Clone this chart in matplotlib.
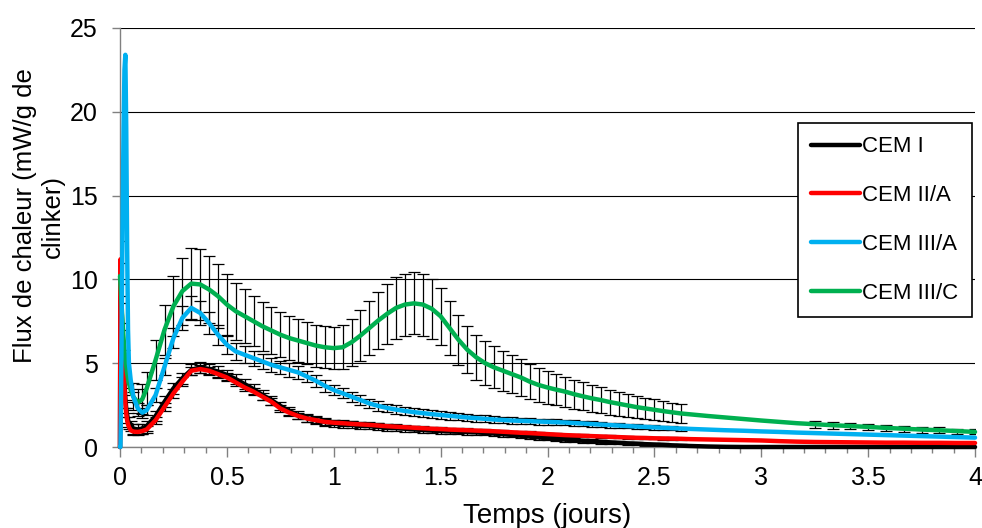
import numpy as np
import matplotlib
matplotlib.use("Agg")
import matplotlib.pyplot as plt
from matplotlib.ticker import MultipleLocator

plt.rcParams['font.family'] = ['Liberation Sans', 'DejaVu Sans']

# ---------------- data (time in hours) ----------------
hours_early = [0, 0.05, 0.1, 0.2, 0.3, 0.4, 0.5, 0.6, 0.7, 0.8, 0.9, 1.0, 1.2, 1.5, 2.0, 2.5]
hours_mid = list(range(3, 64))
hours_late = list(range(64, 97, 2))

labels = ["CEM I", "CEM II/A", "CEM III/A", "CEM III/C"]
colors = ["#000000", "#FF0000", "#00B0F0", "#00B050"]

cem1_early = [0, 11.0, 9.8, 8.0, 6.5, 5.0, 3.8, 2.9, 2.3, 1.9, 1.6, 1.45, 1.25, 1.1, 1.05, 1.1]
cem1_mid = [1.25, 1.85, 2.7, 3.5, 4.1, 4.6, 4.75, 4.65, 4.5, 4.3,
            4.05, 3.75, 3.45, 3.1, 2.8, 2.45, 2.15, 1.9, 1.72, 1.6,
            1.5, 1.42, 1.38, 1.33, 1.29, 1.25, 1.21, 1.17, 1.13, 1.09,
            1.05, 1.01, 0.98, 0.95, 0.93, 0.91, 0.89, 0.87, 0.84, 0.8,
            0.76, 0.72, 0.67, 0.62, 0.57, 0.52, 0.48, 0.44, 0.4, 0.37,
            0.34, 0.31, 0.28, 0.25, 0.22, 0.2, 0.17, 0.15, 0.13, 0.1,
            0.08]
cem1_late = [0.06, 0.03, 0.01, 0.0, 0.0, 0.0, 0.0, 0.0, 0.0, 0.0, 0.0, 0.0, 0.0, 0.0, 0.0, 0.0, 0.0]

cem2a_early = [0, 11.2, 9.5, 7.5, 6.0, 4.6, 3.5, 2.6, 2.0, 1.6, 1.35, 1.2, 1.0, 0.92, 0.9, 0.95]
cem2a_mid = [1.05, 1.6, 2.4, 3.2, 3.9, 4.55, 4.65, 4.55, 4.35, 4.15,
             3.85, 3.55, 3.3, 3.0, 2.7, 2.3, 2.05, 1.85, 1.7, 1.6,
             1.5, 1.45, 1.42, 1.38, 1.35, 1.32, 1.28, 1.24, 1.21, 1.18,
             1.15, 1.12, 1.09, 1.07, 1.04, 1.02, 1.0, 0.98, 0.96, 0.94,
             0.91, 0.88, 0.85, 0.83, 0.8, 0.77, 0.74, 0.71, 0.69, 0.67,
             0.65, 0.63, 0.61, 0.59, 0.57, 0.55, 0.54, 0.52, 0.51, 0.5,
             0.49]
cem2a_late = [0.47, 0.45, 0.43, 0.41, 0.39, 0.35, 0.32, 0.3, 0.29, 0.28, 0.27, 0.26, 0.26, 0.25, 0.25, 0.24, 0.24]

cem3a_early = [0, 0, 2.0, 8.0, 14.0, 19.0, 22.5, 23.4, 19.0, 12.0, 7.0, 5.0, 4.0, 3.0, 2.3, 2.05]
cem3a_mid = [2.2, 3.1, 4.8, 6.5, 7.7, 8.3, 8.0, 7.4, 6.7, 6.1,
             5.7, 5.5, 5.3, 5.1, 4.9, 4.75, 4.6, 4.45, 4.2, 3.95,
             3.65, 3.4, 3.2, 3.0, 2.8, 2.6, 2.45, 2.33, 2.23, 2.15,
             2.08, 2.02, 1.96, 1.91, 1.86, 1.81, 1.76, 1.72, 1.68, 1.64,
             1.61, 1.58, 1.56, 1.54, 1.52, 1.5, 1.48, 1.46, 1.43, 1.4,
             1.37, 1.34, 1.31, 1.28, 1.25, 1.22, 1.2, 1.17, 1.15, 1.12,
             1.1]
cem3a_late = [1.08, 1.04, 1.0, 0.97, 0.93, 0.9, 0.86, 0.83, 0.8, 0.77, 0.74, 0.71, 0.68, 0.65, 0.62, 0.59, 0.56]

cem3c_early = [10.2, 9.8, 9.3, 8.3, 7.3, 6.5, 5.8, 5.2, 4.8, 4.4, 4.1, 3.8, 3.4, 3.0, 2.65, 2.85]
cem3c_mid = [3.5, 5.2, 7.0, 8.4, 9.3, 9.75, 9.7, 9.4, 9.0, 8.5,
             8.1, 7.8, 7.5, 7.2, 6.95, 6.7, 6.5, 6.35, 6.2, 6.05,
             5.95, 5.9, 5.95, 6.25, 6.65, 7.1, 7.55, 7.95, 8.3, 8.5,
             8.57, 8.5, 8.25, 7.8, 7.1, 6.4, 5.8, 5.35, 5.0, 4.75,
             4.55, 4.35, 4.15, 3.9, 3.7, 3.55, 3.42, 3.3, 3.15, 3.02,
             2.9, 2.8, 2.68, 2.58, 2.48, 2.38, 2.3, 2.22, 2.14, 2.07,
             2.0]
cem3c_late = [1.95, 1.85, 1.76, 1.67, 1.58, 1.5, 1.42, 1.36, 1.3, 1.25, 1.2, 1.14, 1.09, 1.04, 1.0, 0.95, 0.9]

# error-bar half widths (0 = no bar)
cem1_err_early = [0, 1.3, 1.2, 1.0, 0.9, 0.8, 0.7, 0.6, 0.5, 0.45, 0.4, 0.35, 0.3, 0.3, 0.3, 0.3]
cem1_err_mid = [0.3, 0.3, 0.32, 0.33, 0.33, 0.33, 0.33, 0.32, 0.32, 0.3,
                0.3, 0.3, 0.28, 0.28, 0.27, 0.26, 0.25, 0.25, 0.24, 0.24,
                0.23, 0.22, 0.22, 0.21, 0.2, 0.2, 0.2, 0.19, 0.19, 0.18,
                0.18, 0.18, 0.17, 0.17, 0.16, 0.16, 0.16, 0.15, 0.15, 0.15,
                0.14, 0.14, 0.14, 0.13, 0.13, 0.13, 0.12, 0.12, 0.12, 0.11,
                0.11, 0.11, 0.1, 0.1, 0.1, 0.1, 0.09, 0.09, 0.09, 0.08,
                0.08]
cem1_err_late = [0, 0, 0, 0, 0, 0, 0, 0, 0, 0, 0, 0, 0, 0, 0, 0, 0]

cem2a_err_early = [0, 0, 0, 0, 0, 0, 0, 0, 0, 0, 0, 0, 0, 0.2, 0.2, 0.2]
cem2a_err_mid = [0.2, 0.22, 0.24, 0.25, 0.25, 0.25, 0.25, 0.25, 0.24, 0.24,
                 0.23, 0.22, 0.22, 0.21, 0.2, 0.2, 0.19, 0.18, 0.18, 0.17,
                 0.17, 0.16, 0.16, 0.15, 0.15, 0.15, 0.14, 0.14, 0.14, 0.13,
                 0.13, 0.13, 0.12, 0.12, 0.12, 0.12, 0.11, 0.11, 0.11, 0.1,
                 0.1, 0.1, 0.1, 0.1, 0.09, 0.09, 0.09, 0.09, 0.09, 0.08,
                 0.08, 0.08, 0.08, 0.08, 0.07, 0.07, 0.07, 0.07, 0.07, 0.07,
                 0.06]
cem2a_err_late = [0, 0, 0, 0, 0, 0, 0, 0, 0, 0, 0, 0, 0, 0, 0, 0, 0]

cem3a_err_early = [0, 0, 0, 0, 0, 0, 0, 0, 0, 0, 0, 0, 0, 0.3, 0.3, 0.3]
cem3a_err_mid = [0.3, 0.4, 0.5, 0.6, 0.7, 0.7, 0.7, 0.65, 0.6, 0.55,
                 0.5, 0.5, 0.45, 0.45, 0.4, 0.4, 0.4, 0.4, 0.35, 0.35,
                 0.35, 0.3, 0.3, 0.3, 0.3, 0.28, 0.28, 0.26, 0.26, 0.25,
                 0.25, 0.24, 0.24, 0.23, 0.23, 0.22, 0.22, 0.21, 0.21, 0.2,
                 0.2, 0.2, 0.19, 0.19, 0.18, 0.18, 0.17, 0.17, 0.16, 0.16,
                 0.16, 0.15, 0.15, 0.15, 0.14, 0.14, 0.14, 0.13, 0.13, 0.13,
                 0.12]
cem3a_err_late = [0, 0, 0, 0, 0, 0, 0, 0, 0, 0, 0, 0, 0, 0, 0, 0, 0]

cem3c_err_early = [0, 0, 0, 0, 0, 0, 0, 0, 0, 0, 0, 0, 0, 0.8, 0.8, 0.9]
cem3c_err_mid = [1.0, 1.2, 1.5, 1.8, 2.0, 2.1, 2.1, 2.0, 1.9, 1.8,
                 1.7, 1.6, 1.5, 1.45, 1.4, 1.35, 1.3, 1.3, 1.25, 1.25,
                 1.25, 1.25, 1.3, 1.4, 1.5, 1.6, 1.7, 1.8, 1.85, 1.85,
                 1.85, 1.85, 1.8, 1.7, 1.6, 1.5, 1.4, 1.35, 1.3, 1.25,
                 1.2, 1.15, 1.1, 1.05, 1.0, 0.97, 0.94, 0.9, 0.87, 0.84,
                 0.81, 0.78, 0.75, 0.72, 0.7, 0.67, 0.64, 0.62, 0.6, 0.57,
                 0.55]
cem3c_err_late = [0, 0, 0, 0, 0, 0, 0, 0.22, 0.22, 0.2, 0.2, 0.2, 0.18, 0.18, 0.18, 0.15, 0.15]

series = [
    (cem1_early + cem1_mid + cem1_late, cem1_err_early + cem1_err_mid + cem1_err_late),
    (cem2a_early + cem2a_mid + cem2a_late, cem2a_err_early + cem2a_err_mid + cem2a_err_late),
    (cem3a_early + cem3a_mid + cem3a_late, cem3a_err_early + cem3a_err_mid + cem3a_err_late),
    (cem3c_early + cem3c_mid + cem3c_late, cem3c_err_early + cem3c_err_mid + cem3c_err_late),
]
zorders = [3, 4, 6, 5]

t_days = np.array(hours_early + hours_mid + hours_late, dtype=float) / 24.0

# ---------------- figure ----------------
fig = plt.figure(figsize=(9.82, 5.28), dpi=100)
ax = fig.add_axes([0.1222, 0.1534, 0.8707, 0.7936])

for (vals, errs), col, lab, z in zip(series, colors, labels, zorders):
    y = np.array(vals, dtype=float)
    e = np.array(errs, dtype=float)
    m = e > 0
    ax.errorbar(t_days[m], y[m], yerr=e[m], fmt='none', ecolor='black',
                elinewidth=0.9, capsize=4.5, capthick=0.9, zorder=2)
    ax.plot(t_days, y, color=col, lw=3.2, label=lab, zorder=z,
            solid_capstyle='round', solid_joinstyle='round', clip_on=False)

ax.set_xlim(0, 4)
ax.set_ylim(0, 25)
ax.xaxis.set_major_locator(MultipleLocator(0.5))
ax.xaxis.set_minor_locator(MultipleLocator(0.1))
ax.yaxis.set_major_locator(MultipleLocator(5))
ax.xaxis.set_major_formatter(plt.FuncFormatter(lambda v, p: ('%g' % v)))

ax.grid(axis='y', color='black', lw=0.8, zorder=0)
ax.set_axisbelow(True)
for s in ['top', 'right']:
    ax.spines[s].set_visible(False)
for s in ['left', 'bottom']:
    ax.spines[s].set_color('#808080')
    ax.spines[s].set_linewidth(1.0)

ax.tick_params(axis='x', which='major', direction='out', length=7, width=1,
               color='#808080', labelsize=18, pad=7)
ax.tick_params(axis='x', which='minor', direction='out', length=4.5, width=1,
               color='#808080')
ax.tick_params(axis='y', which='major', direction='out', length=6, width=1,
               color='#808080', labelsize=18, pad=10)

ax.set_xlabel("Temps (jours)", fontsize=20, labelpad=9)
fig.text(39 / 982, 1 - 216 / 528, "Flux de chaleur (mW/g de\nclinker)",
         rotation=90, ha='center', va='center', multialignment='center',
         fontsize=18.5, linespacing=1.25)

leg = ax.legend(loc='upper left', bbox_to_anchor=(0.793, 0.773),
                borderaxespad=0, fontsize=16, frameon=True, fancybox=False,
                edgecolor='black', framealpha=1, handlelength=2.2,
                handletextpad=0.1, labelspacing=1.25, borderpad=0.6)
leg.get_frame().set_linewidth(1.2)
for ln in leg.get_lines():
    ln.set_linewidth(3.2)

fig.savefig("out.png", dpi=100)
